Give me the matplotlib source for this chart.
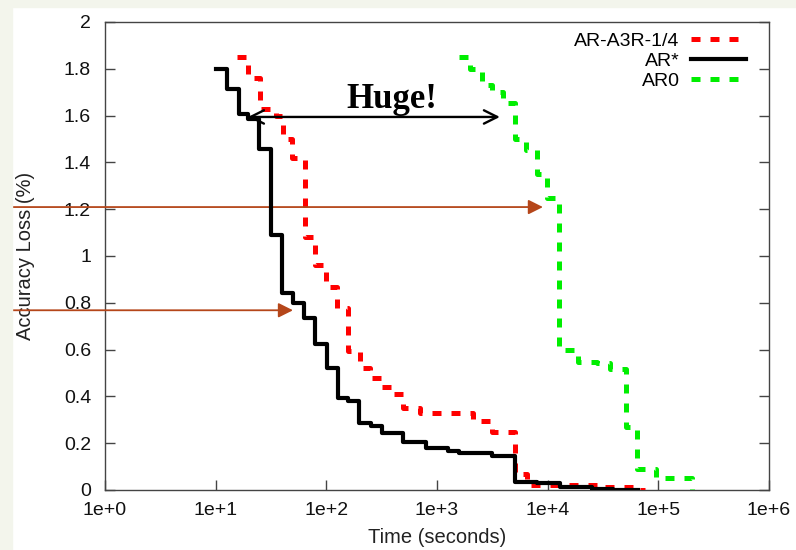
import matplotlib.pyplot as plt
from matplotlib.patches import Rectangle

plt.rcParams['font.family'] = ['Liberation Sans', 'DejaVu Sans']
plt.rcParams['font.size'] = 14

# 数据 (从图上读取, 阶梯曲线)
t_ar3 = [15.6, 19.6, 25.2, 35.1, 40.6, 48.9, 64.2, 79.0, 99.3, 125, 157, 201, 248, 312,
         392, 493, 702, 2115, 3140, 5070, 6505, 29700, 65500, 75700]
y_ar3 = [1.85, 1.76, 1.63, 1.60, 1.50, 1.42, 1.08, 0.96, 0.867, 0.779, 0.595, 0.52, 0.48, 0.44,
         0.41, 0.35, 0.33, 0.293, 0.249, 0.068, 0.021, 0.013, 0.0, 0.0]

t_arstar = [10.1, 12.7, 16.2, 19.7, 24.6, 31.6, 39.7, 50.3, 62.8, 79.0, 100.8, 126.7, 157.9,
            198.6, 251.6, 316.4, 496, 795, 1265, 1590, 3120, 5070, 7960, 12920, 25000, 38930, 65500]
y_arstar = [1.80, 1.712, 1.605, 1.587, 1.457, 1.09, 0.84, 0.80, 0.734, 0.624, 0.52, 0.392, 0.382,
            0.285, 0.274, 0.242, 0.204, 0.178, 0.167, 0.16, 0.147, 0.036, 0.029, 0.014, 0.004, 0.001, 0.001]

t_ar0 = [1580, 1987, 2550, 3140, 3950, 5070, 6370, 8010, 9860, 12660, 18800, 27900, 36560,
         51030, 64150, 95240, 201000]
y_ar0 = [1.85, 1.80, 1.73, 1.70, 1.652, 1.50, 1.453, 1.35, 1.249, 0.598, 0.548, 0.541, 0.516,
         0.27, 0.088, 0.05, 0.0]

xticks = [1, 10, 100, 1000, 1e4, 1e5, 1e6]
xlabels = ['1e+0', '1e+1', '1e+2', '1e+3', '1e+4', '1e+5', '1e+6']
yticks = [0, 0.2, 0.4, 0.6, 0.8, 1, 1.2, 1.4, 1.6, 1.8, 2]
ylabels = ['0', '0.2', '0.4', '0.6', '0.8', '1', '1.2', '1.4', '1.6', '1.8', '2']

fig = plt.figure(figsize=(7.96, 5.5), dpi=100)
# 幻灯片背景边
fig.patches.append(Rectangle((0, 0.987), 1, 0.013, transform=fig.transFigure, color='#f3f5ec', zorder=0))
fig.patches.append(Rectangle((0, 0), 0.015, 1, transform=fig.transFigure, color='#f3f5ec', zorder=0))

ax = fig.add_axes([0.1319, 0.1091, 0.834, 0.851])
ax.set_xscale('log')
ax.set_xlim(1, 1e6)
ax.set_ylim(0, 2)

ax.step(t_ar3, y_ar3, where='post', color='#ff0000', lw=3.6, dashes=(1.8, 2.0),
        label='AR-A3R-1/4', zorder=3)
ax.step(t_arstar, y_arstar, where='post', color='black', lw=3.0, label='AR*', zorder=4)
ax.step(t_ar0, y_ar0, where='post', color='#00ee00', lw=3.6, dashes=(1.8, 2.0),
        label='AR0', zorder=3)

ax.set_xticks(xticks)
ax.set_xticklabels(xlabels)
ax.minorticks_off()
ax.set_yticks(yticks)
ax.set_yticklabels(ylabels)
ax.tick_params(direction='in', length=7, width=1, color='#444444', right=True, top=False,
               labelsize=14, labelcolor='#111111')
ax.tick_params(axis='y', pad=10)
ax.tick_params(axis='x', pad=9)
for s in ax.spines.values():
    s.set_color('#444444')
    s.set_linewidth(1)

ax.set_xlabel('Time (seconds)', fontsize=14.5, color='#222222')
ax.set_ylabel('Accuracy Loss (%)', fontsize=14.5, color='#222222')
ax.xaxis.set_label_coords(0.5, -0.081)
ax.yaxis.set_label_coords(-0.106, 0.5)

ax.legend(loc='upper right', bbox_to_anchor=(0.965, 0.978), frameon=False, markerfirst=False,
          handlelength=2.8, handletextpad=0.6, labelspacing=0.12, fontsize=14,
          borderaxespad=0, borderpad=0)

# Huge! 双箭头
ax.annotate('', xy=(19.6, 1.594), xytext=(3707, 1.594),
            arrowprops=dict(arrowstyle='<->', color='black', lw=1.7, mutation_scale=24,
                            shrinkA=0, shrinkB=0))
ax.text(390, 1.67, 'Huge!', family='Liberation Serif', fontsize=25, weight='bold',
        ha='center', va='center')

# 棕色箭头
brown = '#b5461a'
ax.annotate('', xy=(9080, 1.209), xytext=(0, 1.209), textcoords=('figure fraction', 'data'),
            arrowprops=dict(arrowstyle='-|>', color=brown, lw=1.3, mutation_scale=22,
                            shrinkA=0, shrinkB=0),
            annotation_clip=False)
ax.annotate('', xy=(50, 0.768), xytext=(0, 0.768), textcoords=('figure fraction', 'data'),
            arrowprops=dict(arrowstyle='-|>', color=brown, lw=1.3, mutation_scale=22,
                            shrinkA=0, shrinkB=0),
            annotation_clip=False)

plt.savefig('out.png', dpi=100)
